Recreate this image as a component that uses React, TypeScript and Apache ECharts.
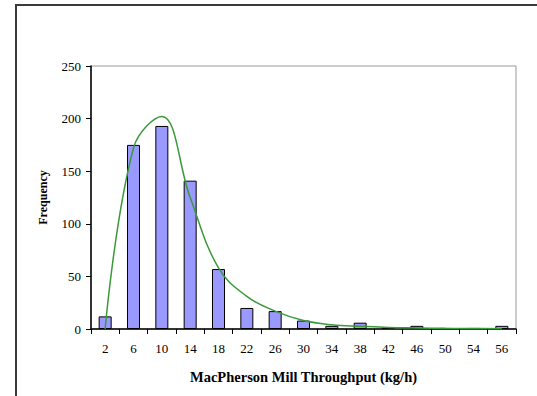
import React, { useEffect, useRef } from "react";
import * as echarts from "echarts";

const categories = ["2", "6", "10", "14", "18", "22", "26", "30", "34", "38", "42", "46", "50", "54", "56"];
const frequencies = [12, 175, 193, 141, 57, 20, 17, 8, 3, 6, 1, 3, 1, 1, 3];
const fittedCurve = [0, 172, 202, 125, 58, 31, 17, 8, 4, 2.5, 1.5, 1, 0.6, 0.4, 0.3];
const yTicks = { min: 0, max: 250, interval: 50 };

const FONT = "'Liberation Serif', 'Times New Roman', serif";

export default function App() {
  const ref = useRef<HTMLDivElement>(null);
  useEffect(() => {
    document.body.style.margin = "0";
    if (!ref.current) return;
    const chart = echarts.init(ref.current, null, { renderer: "svg" });
    chart.setOption({
      animation: false,
      backgroundColor: "#ffffff",
      textStyle: { fontFamily: FONT },
      graphic: [
        {
          type: "rect",
          shape: { x: 16, y: 5, width: 700, height: 600 },
          style: { fill: "none", stroke: "#3a3a3a", lineWidth: 2 },
          silent: true,
        },
      ],
      grid: {
        left: 91,
        top: 66,
        right: 21,
        bottom: 67,
        show: true,
        borderColor: "#999999",
        borderWidth: 1,
        containLabel: false,
      },
      xAxis: {
        type: "category",
        data: categories,
        name: "MacPherson Mill Throughput (kg/h)",
        nameLocation: "middle",
        nameGap: 40,
        nameTextStyle: { fontFamily: FONT, fontWeight: "bold", fontSize: 14.5, color: "#000" },
        axisLine: { lineStyle: { color: "#000", width: 1.5 } },
        axisTick: { show: true, length: 5, alignWithLabel: false, interval: 0, lineStyle: { color: "#000" } },
        axisLabel: { interval: 0, margin: 13, fontFamily: FONT, fontSize: 13, color: "#000" },
        splitLine: { show: false },
      },
      yAxis: {
        type: "value",
        min: yTicks.min,
        max: yTicks.max,
        interval: yTicks.interval,
        name: "Frequency",
        nameLocation: "middle",
        nameGap: 42,
        nameRotate: 90,
        nameTextStyle: { fontFamily: FONT, fontWeight: "bold", fontSize: 12, color: "#000" },
        axisLine: { show: true, lineStyle: { color: "#000", width: 1.5 } },
        axisTick: { show: true, length: 5, inside: false, lineStyle: { color: "#000" } },
        axisLabel: { margin: 10, fontFamily: FONT, fontSize: 13, color: "#000" },
        splitLine: { show: false },
      },
      series: [
        {
          type: "bar",
          data: frequencies,
          barWidth: 13,
          itemStyle: { color: "#9999ff", borderColor: "#000", borderWidth: 1 },
        },
        {
          type: "line",
          data: fittedCurve,
          smooth: 0.4,
          symbol: "none",
          lineStyle: { color: "#3a9a3a", width: 1.5 },
        },
      ],
    });
    return () => chart.dispose();
  }, []);
  return <div ref={ref} style={{ width: 537, height: 396 }} />;
}
